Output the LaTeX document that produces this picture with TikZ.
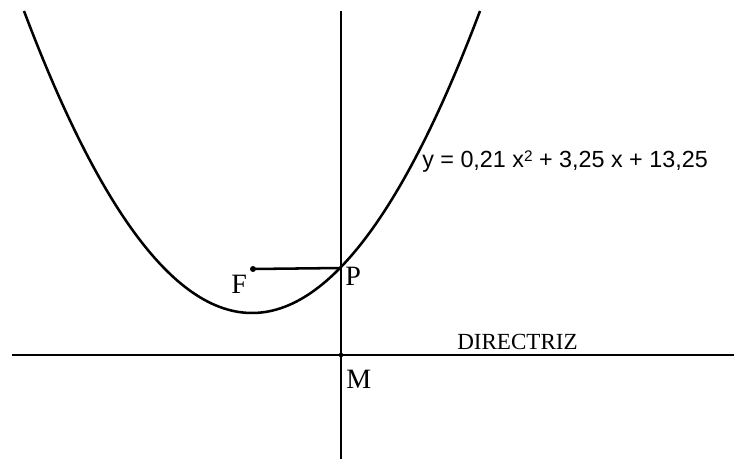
\documentclass[tikz,border=0pt]{standalone}
\usepackage{fontspec}
\setmainfont{Liberation Serif}
\newfontfamily\arialf{Liberation Sans}
\begin{document}
\begin{tikzpicture}[x=0.75pt,y=-0.75pt,
  ln/.style={line width=1.9pt},
  dotc/.style={circle,fill=black,inner sep=0pt,minimum size=4.5pt},
  lbl/.style={inner sep=0pt,anchor=base west,font=\fontsize{21}{25}\selectfont},
  eqn/.style={inner sep=0pt,anchor=base west,font=\arialf\fontsize{17.5}{21}\selectfont}]
\useasboundingbox (0,0) rectangle (734,459);
\coordinate (top) at (341,11);
\coordinate (bot) at (341,459);
\coordinate (left) at (12,355);
\coordinate (right) at (734,355);
\coordinate (P) at (341,268);
\node[dotc] (F) at (253,269) {};
\node[dotc,minimum size=3.5pt] (M) at (341,355) {};
\draw[ln] plot[domain=-228:228,samples=120] ({252+\x},{313-302*(\x/228)*(\x/228)});
\draw[ln] (top) -- (bot);
\draw[ln] (left) -- (right);
\draw[ln] (F.center) -- (P);
\node[lbl] (lF) at (231,293) {F};
\node[lbl] (lP) at (345,286) {P};
\node[lbl] (lM) at (346,388) {M};
\node[inner sep=0pt,anchor=base west,font=\fontsize{17.3}{20}\selectfont] (dir) at (457,349) {DIRECTRIZ};
\node[eqn] (eq) at (422,168) {y = 0,21 x\raisebox{0.55ex}{\fontsize{11.5}{12}\selectfont 2} + 3,25 x + 13,25};
\end{tikzpicture}
\end{document}
